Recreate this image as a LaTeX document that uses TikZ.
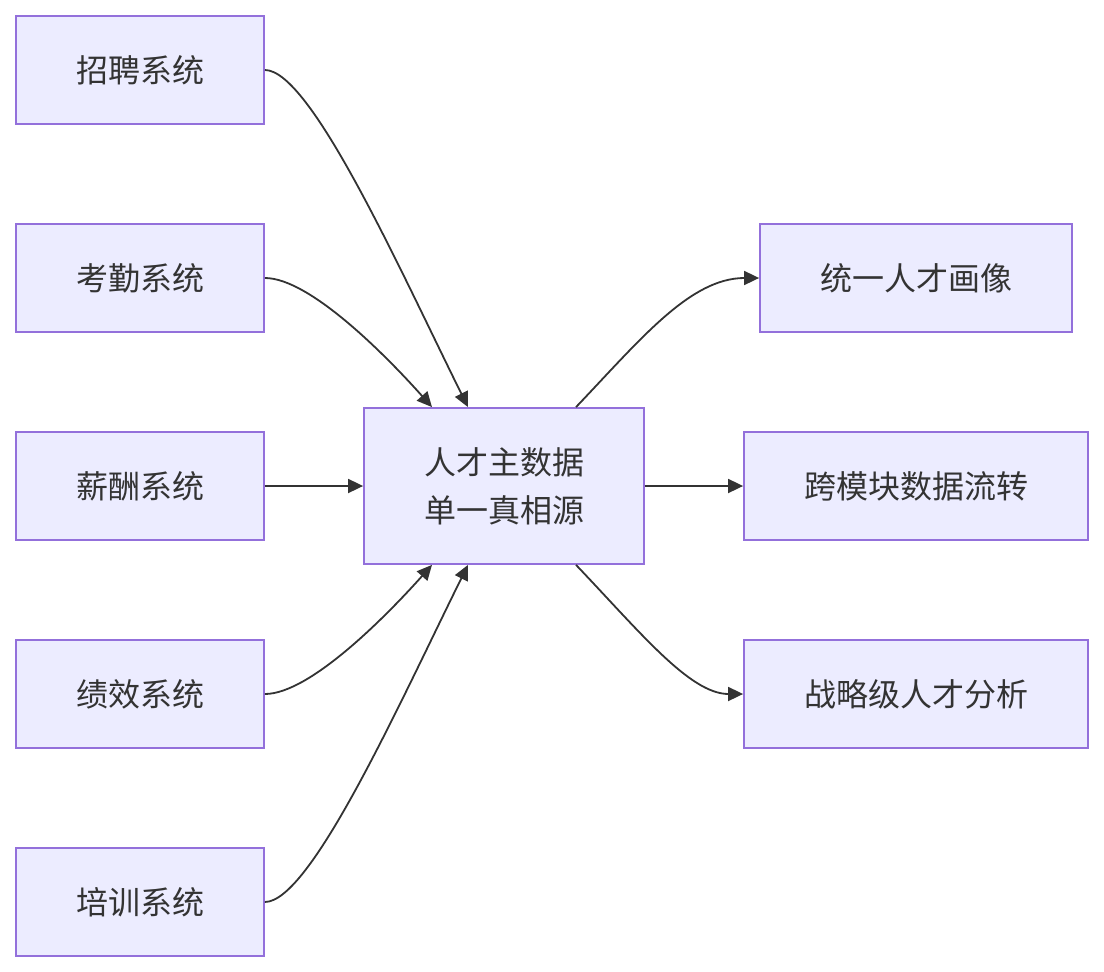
\documentclass[tikz,border=0pt]{standalone}
\usepackage{fontspec}
\setmainfont{Noto Sans CJK SC}
\usetikzlibrary{arrows.meta,calc}
\definecolor{nodefill}{HTML}{ECECFF}
\definecolor{nodeline}{HTML}{9370DB}
\definecolor{txt}{HTML}{333333}
\begin{document}
\begin{tikzpicture}[x=1pt,y=-1pt,
  box/.style={draw=nodeline,fill=nodefill,line width=1.8pt,inner sep=0pt,
    text=txt,font=\fontsize{32}{48}\selectfont,align=center},
  conn/.style={draw=txt,line width=1.8pt,-{Triangle[length=15pt,width=14pt]}}]
\useasboundingbox (0,0) rectangle (1104,972);
\node[box,minimum width=248pt,minimum height=108pt] (zp) at (140,70) {招聘系统};
\node[box,minimum width=248pt,minimum height=108pt] (kq) at (140,278) {考勤系统};
\node[box,minimum width=248pt,minimum height=108pt] (xc) at (140,486) {薪酬系统};
\node[box,minimum width=248pt,minimum height=108pt] (jx) at (140,694) {绩效系统};
\node[box,minimum width=248pt,minimum height=108pt] (px) at (140,902) {培训系统};
\node[box,minimum width=280pt,minimum height=156pt] (c) at (504,486) {人才主数据\\单一真相源};
\node[box,minimum width=312pt,minimum height=108pt] (hx) at (916,278) {统一人才画像};
\node[box,minimum width=344pt,minimum height=108pt] (lz) at (916,486) {跨模块数据流转};
\node[box,minimum width=344pt,minimum height=108pt] (fx) at (916,694) {战略级人才分析};
\coordinate (n1) at ($(c.north)+(-36,0)$);
\coordinate (n2) at ($(c.north)+(-72,0)$);
\coordinate (s1) at ($(c.south)+(-36,0)$);
\coordinate (s2) at ($(c.south)+(-72,0)$);
\coordinate (nr) at ($(c.north)+(72,0)$);
\coordinate (sr) at ($(c.south)+(72,0)$);
\draw[conn] (zp.east) .. controls +(46,0) and (400,270) .. (n1);
\draw[conn] (kq.east) .. controls +(46,0) and (390,360) .. (n2);
\draw[conn] (xc.east) -- (c.west);
\draw[conn] (jx.east) .. controls +(46,0) and (390,612) .. (s2);
\draw[conn] (px.east) .. controls +(46,0) and (400,702) .. (s1);
\draw[conn] (nr) .. controls (640,340) and (690,278) .. (hx.west);
\draw[conn] (c.east) -- (lz.west);
\draw[conn] (sr) .. controls (640,632) and (690,694) .. (fx.west);
\end{tikzpicture}
\end{document}
